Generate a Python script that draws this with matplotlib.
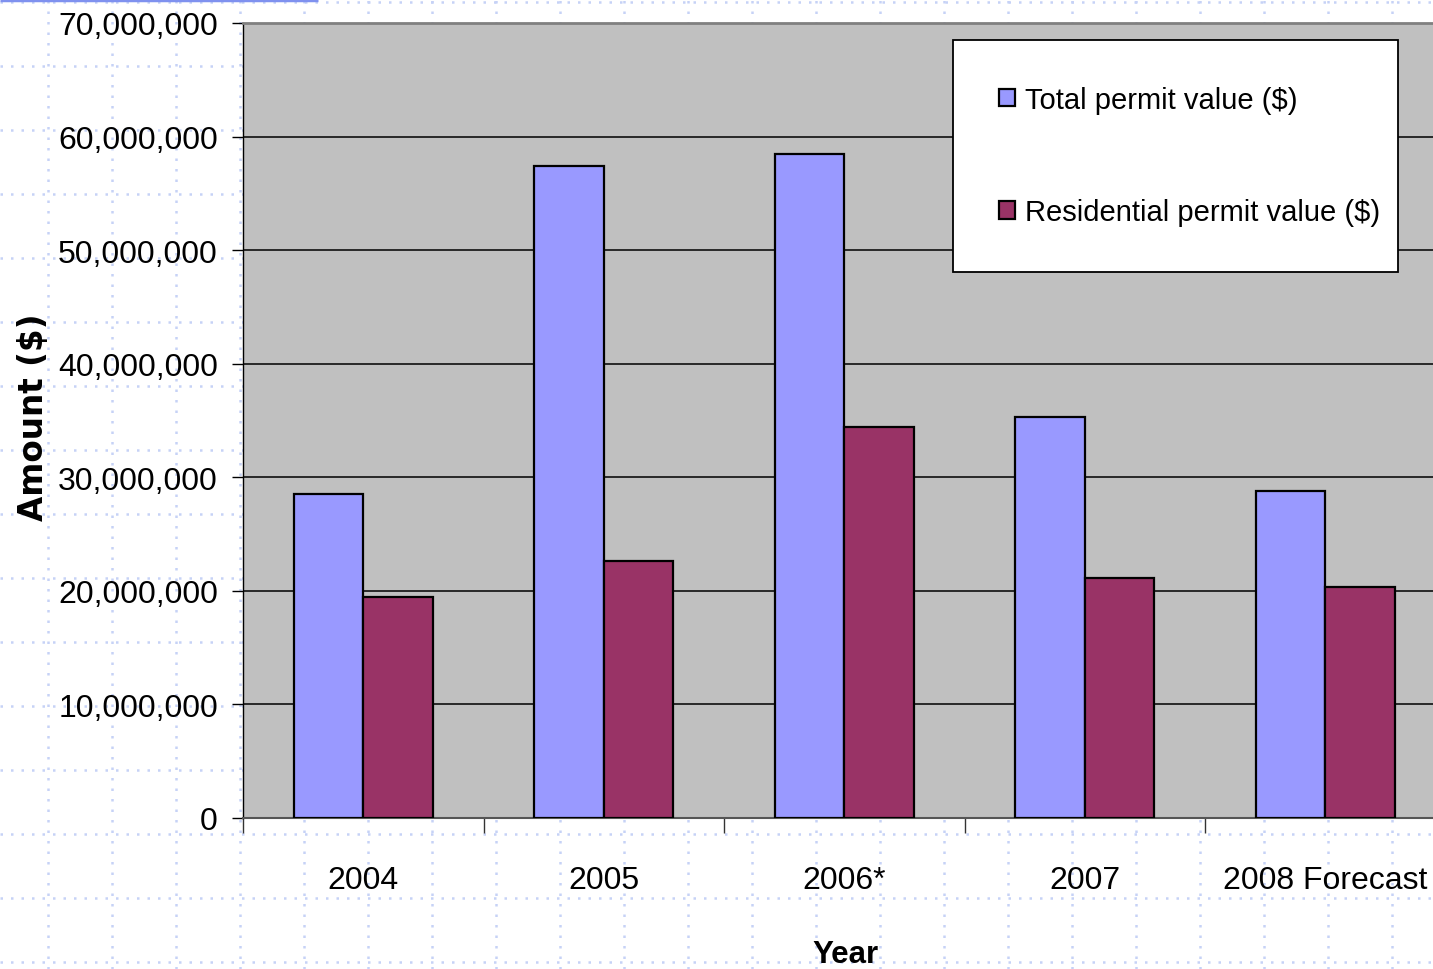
import matplotlib
matplotlib.use("Agg")
import matplotlib.pyplot as plt
import numpy as np
from matplotlib.ticker import FuncFormatter, MultipleLocator

# ---- data ----
categories = ["2004", "2005", "2006*", "2007", "2008 Forecast"]
total_permit = [28.5e6, 57.4e6, 58.5e6, 35.3e6, 28.8e6]
residential_permit = [19.5e6, 22.6e6, 34.4e6, 21.1e6, 20.3e6]
series_labels = ["Total permit value ($)", "Residential permit value ($)"]

narrow = ["Liberation Sans Narrow", "Liberation Sans", "DejaVu Sans"]

W, H = 1433, 970
fig = plt.figure(figsize=(W / 100, H / 100), dpi=100)
fig.patch.set_facecolor("white")

# ---- slide background: dotted light-blue grid ----
bg = fig.add_axes([0, 0, 1, 1], zorder=-5)
bg.set_xlim(0, W)
bg.set_ylim(H, 0)
bg.axis("off")
grid_col = "#c6d2f6"
for gx in np.arange(48, W, 64):
    bg.axvline(gx, color=grid_col, lw=1.8, dashes=(1.0, 3.2))
for gy in np.arange(3, H, 64):
    bg.axhline(gy, color=grid_col, lw=1.8, dashes=(1.0, 3.2))
bg.plot([0, 318], [1, 1], color="#7f91ef", lw=2.5, solid_capstyle="butt")

# ---- main axes (extends past right edge like the original) ----
left, right, top, bottom = 243, 1445.5, 24, 819
ax = fig.add_axes([left / W, 1 - bottom / H, (right - left) / W, (bottom - top) / H])
ax.set_facecolor("#c0c0c0")

x = np.arange(len(categories))
bw = 0.29
ax.bar(x - bw / 2, total_permit, bw, color="#9999ff", edgecolor="black", linewidth=1.6,
       label=series_labels[0], zorder=3)
ax.bar(x + bw / 2, residential_permit, bw, color="#993366", edgecolor="black", linewidth=1.6,
       label=series_labels[1], zorder=3)

ax.set_xlim(-0.5, len(categories) - 0.5)
ax.set_ylim(0, 70e6)
ax.yaxis.set_major_locator(MultipleLocator(10e6))
ax.yaxis.set_major_formatter(FuncFormatter(lambda v, p: f"{int(round(v)):,}"))
ax.grid(axis="y", color="black", lw=1.1, zorder=1)
ax.set_axisbelow(True)

ax.set_xticks(x)
ax.set_xticklabels(categories)
ax.set_xticks(np.arange(len(categories)) - 0.5, minor=True)
ax.tick_params(axis="x", which="major", length=0, pad=34, labelsize=23)
ax.tick_params(axis="x", which="minor", length=11, width=1.0, color="#333333", direction="out")
ax.tick_params(axis="y", which="major", length=8, width=1.0, color="black", direction="out",
               pad=10, labelsize=23)
for lab in ax.get_xticklabels() + ax.get_yticklabels():
    lab.set_family(narrow)

ax.spines["top"].set_color("#808080")
ax.spines["top"].set_linewidth(2.0)
ax.spines["left"].set_color("black")
ax.spines["left"].set_linewidth(1.0)
ax.spines["bottom"].set_color("#555555")
ax.spines["bottom"].set_linewidth(1.5)
ax.spines["right"].set_visible(False)

ax.set_ylabel("Amount ($)", fontsize=23.5, fontweight="bold", family="DejaVu Sans", va="center")
ax.yaxis.set_label_coords(-0.1745, 0.505)
ax.set_xlabel("Year", fontsize=22.5, fontweight="bold", family=narrow, va="baseline")
ax.xaxis.set_label_coords(0.5006, -0.181)

lx0 = (953 - left) / (right - left)
lx1 = (1398 - left) / (right - left)
ly1 = (bottom - 41) / (bottom - top)
leg = ax.legend(loc="upper left", bbox_to_anchor=(lx0, ly1 - 0.5, lx1 - lx0, 0.5), mode="expand",
                borderaxespad=0, frameon=True, fancybox=False, framealpha=1,
                edgecolor="black", facecolor="white",
                prop={"family": narrow, "size": 21}, borderpad=1.57, labelspacing=2.9,
                handlelength=0.55, handleheight=0.55, handletextpad=0.35)
leg.get_frame().set_linewidth(1.3)

fig.savefig("out.png", dpi=100)
